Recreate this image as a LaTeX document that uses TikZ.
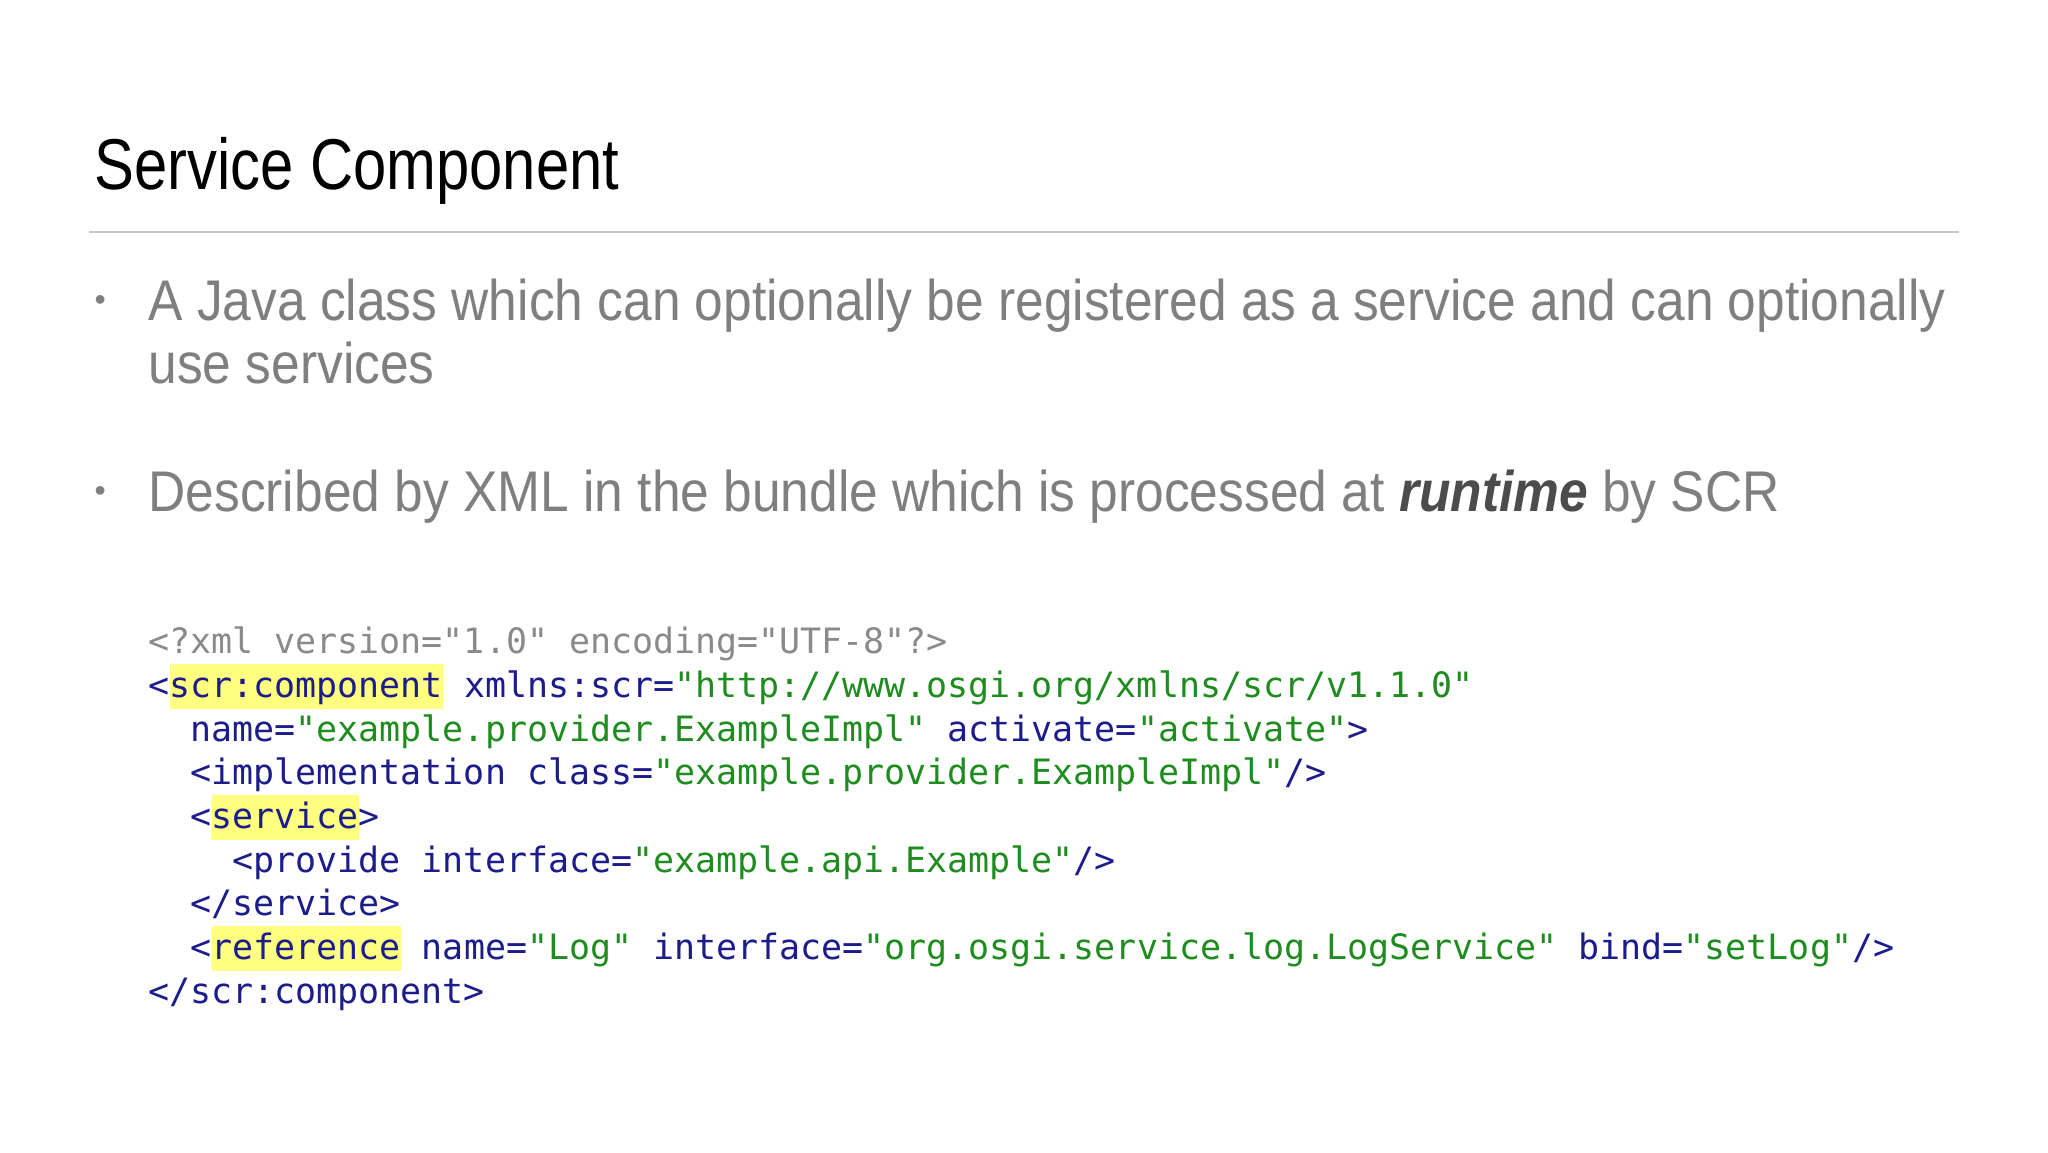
\documentclass[tikz,border=0pt]{standalone}
\usepackage{fontspec}
\setmainfont{Liberation Sans}
\setmonofont{DejaVu Sans Mono}
\newfontfamily\titlefont[FakeStretch=0.83]{Liberation Sans}
\newfontfamily\bulfont[FakeStretch=0.898]{Liberation Sans}
\definecolor{tg}{HTML}{1C1C8A}
\definecolor{st}{HTML}{1E8C1E}
\definecolor{dc}{HTML}{8A8A8A}
\definecolor{hly}{HTML}{FFFF80}
\definecolor{bt}{HTML}{7F7F7F}
\newcommand{\hlx}[1]{{\setlength\fboxsep{0pt}\colorbox{hly}{\rule[-4.4pt]{0pt}{16.7pt}#1}}}
\newcommand{\stx}[1]{\textcolor{st}{#1}}
\begin{document}
\begin{tikzpicture}[x=0.375pt,y=-0.375pt,
  title/.style={anchor=base west,inner sep=0pt,font=\titlefont\fontsize{27}{32}\selectfont},
  bul/.style={anchor=base west,inner sep=0pt,text=bt,font=\bulfont\fontsize{21.5}{24}\selectfont},
  dot/.style={anchor=base west,inner sep=0pt,text=bt,font=\fontsize{12}{14}\selectfont},
  code/.style={anchor=base west,inner sep=0pt,text=tg,font=\ttfamily\fontsize{13.1}{16}\selectfont}]
\useasboundingbox (0,0) rectangle (2048,1152);
\fill[white] (0,0) rectangle (2048,1152);
\node[title] (t) at (94,189) {Service Component};
\coordinate (r1) at (89,232); \coordinate (r2) at (1959,232);
\draw[color=black!22,line width=0.6pt] (r1) -- (r2);
\node[dot] (d1) at (94,310) {\textbullet};
\node[bul] (b1) at (148,320) {A Java class which can optionally be registered as a service and can optionally};
\node[bul] (b1b) at (148,383) {use services};
\node[dot] (d2) at (94,501) {\textbullet};
\node[bul] (b2) at (148,511) {Described by XML in the bundle which is processed at \textcolor{black!70}{\textbf{\textit{runtime}}} by SCR};
\node[code,text=dc] (c1) at (148,653) {<?xml version="1.0" encoding="UTF-8"?>};
\node[code] (c2) at (148,697) {<\hlx{scr:component} xmlns:scr=\stx{"http://www.osgi.org/xmlns/scr/v1.1.0"}};
\node[code] (c3) at (148,741) {\ \ name=\stx{"example.provider.ExampleImpl"} activate=\stx{"activate"}>};
\node[code] (c4) at (148,784) {\ \ <implementation class=\stx{"example.provider.ExampleImpl"}/>};
\node[code] (c5) at (148,828) {\ \ <\hlx{service}>};
\node[code] (c6) at (148,872) {\ \ \ \ <provide interface=\stx{"example.api.Example"}/>};
\node[code] (c7) at (148,915) {\ \ </service>};
\node[code] (c8) at (148,959) {\ \ <\hlx{reference} name=\stx{"Log"} interface=\stx{"org.osgi.service.log.LogService"} bind=\stx{"setLog"}/>};
\node[code] (c9) at (148,1003) {</scr:component>};
\end{tikzpicture}
\end{document}
